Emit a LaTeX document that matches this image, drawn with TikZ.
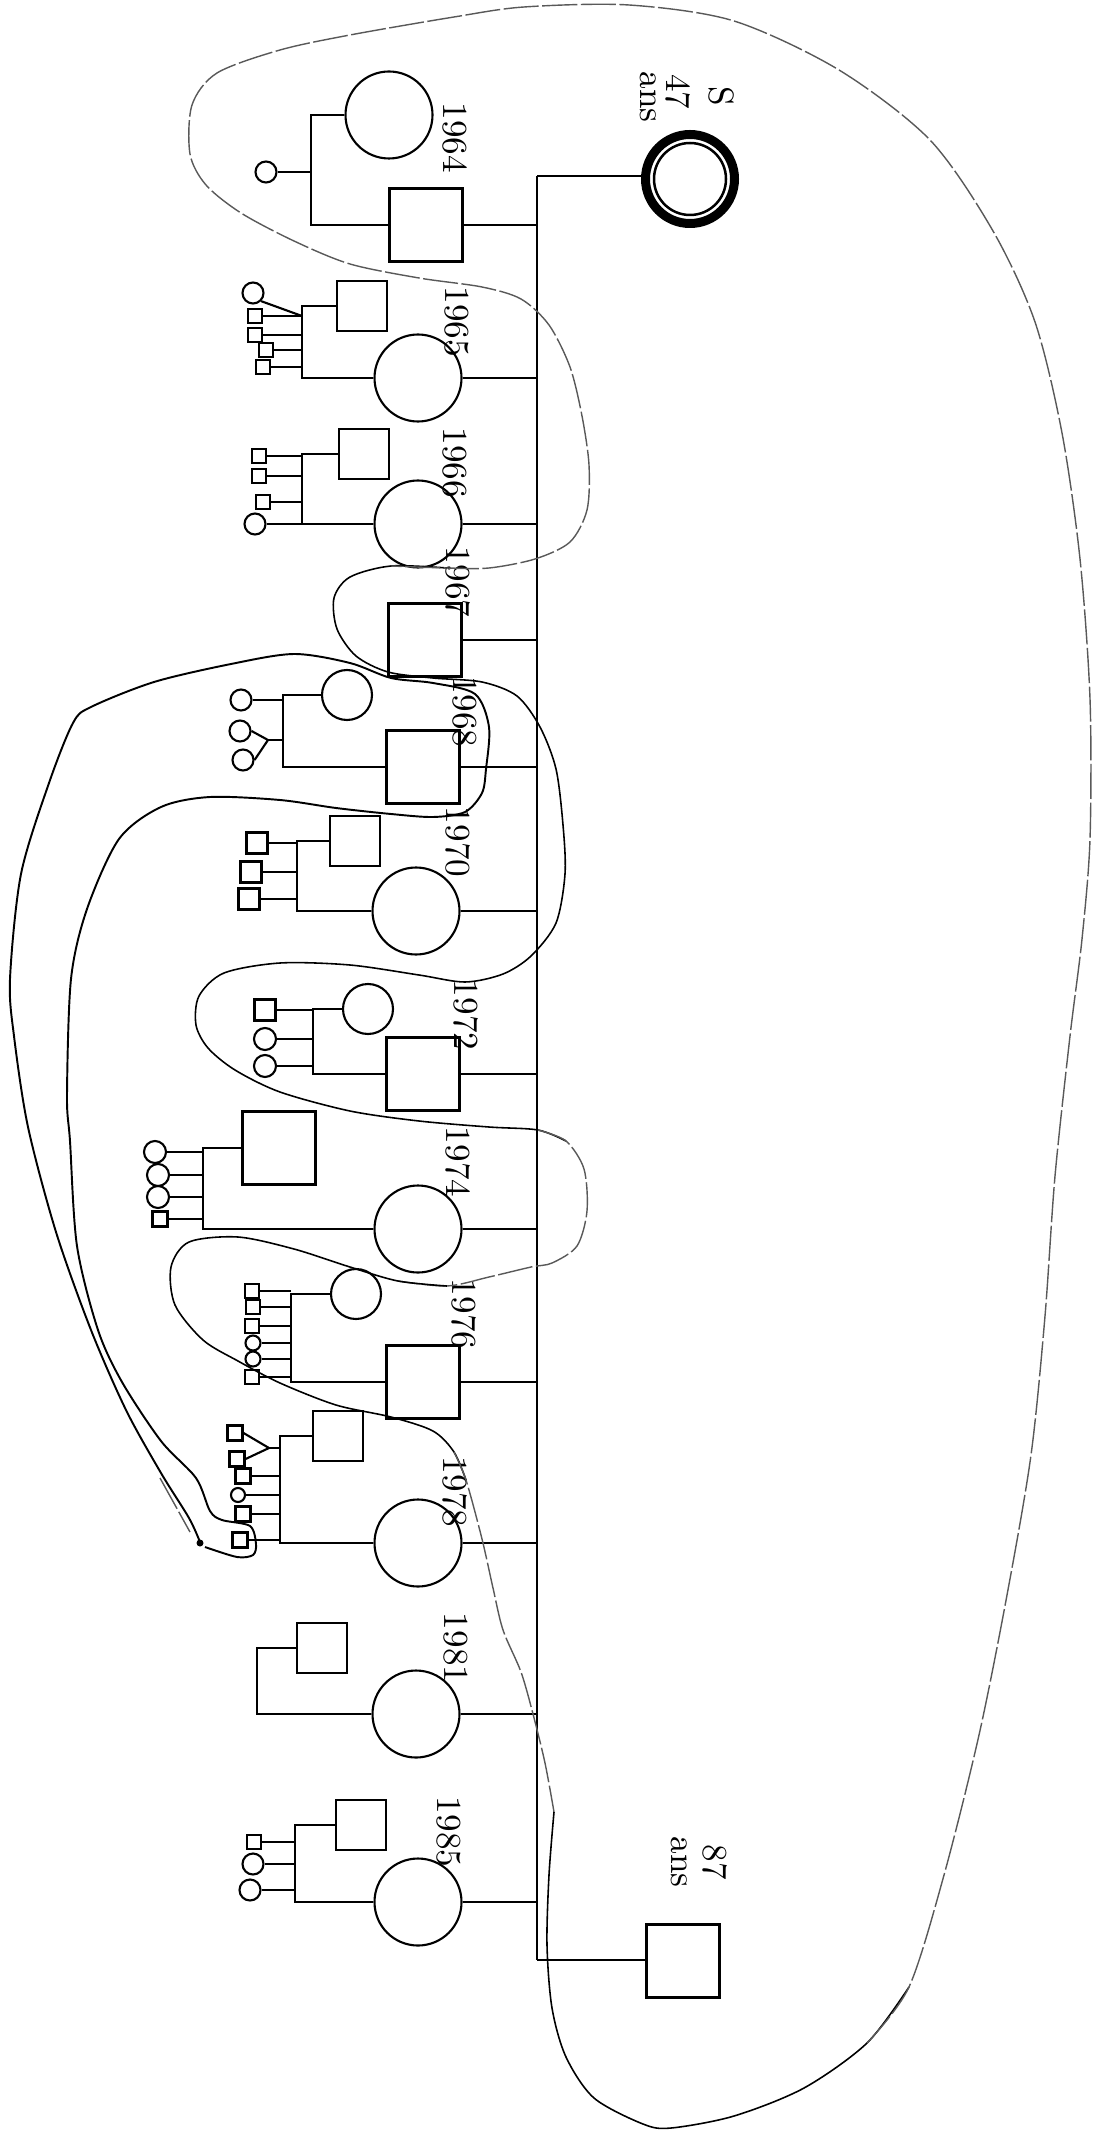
\documentclass[tikz,border=0pt]{standalone}
\usetikzlibrary{positioning}
\begin{document}
\begin{tikzpicture}[
  x=0.1mm, y=-0.1mm,
  line width=0.6pt,
  man/.style={draw, rectangle, minimum size=7.3mm, inner sep=0pt},
  woman/.style={draw, circle, minimum size=8.7mm, inner sep=0pt},
  mate/.style={draw, rectangle, minimum size=5mm, inner sep=0pt},
  matef/.style={draw, circle, minimum size=5mm, inner sep=0pt},
  kid/.style={draw, rectangle, minimum size=#1, inner sep=0pt}, kid/.default=1.4mm,
  kidf/.style={draw, circle, minimum size=#1, inner sep=0pt}, kidf/.default=2.1mm,
  year/.style={rotate=-90, inner sep=0pt, font=\fontsize{10}{12}\selectfont},
  hand/.style={line width=0.45pt},
  faint/.style={line width=0.4pt, black!65, dash pattern=on 10pt off 1pt}
]
\useasboundingbox (0,0) rectangle (1096,2132);

% Parents
\node[woman, line width=0.9mm, minimum size=8.9mm] (mother) at (690,179) {};
\draw[line width=0.25mm] (mother.center) circle[radius=3.6mm];
\node[year] (mS)   at (721,96) {S};
\node[year] (mAge) at (678,92) {47};
\node[year] (mAns) at (648,97) {ans};
\node[man] (father) at (683,1961) {};
\node[year] (fAge) at (715,1862) {87};
\node[year] (fAns) at (679,1862) {ans};

\coordinate (top) at (537,176);
\coordinate (bot) at (537,1960);
\draw (top) -- (bot);
\draw (top) -- (top -| mother.west);
\draw (bot) -- (bot -| father.west);

% 1964
\node[man]   (b64) at (426,225) {};
\node[woman] (s64) at (389,115) {};
\coordinate  (v64) at (311,0);
\node[kidf]  (k64a) at (266,172) {};
\node[year]  (y64) at (455,138) {1964};
\draw (b64.east) -- (b64.east -| top);
\draw (s64.west) -- (s64.west -| v64) -- (b64.west -| v64) -- (b64.west);
\draw (k64a.east) -- (k64a.east -| v64);

% 1965
\node[woman] (b65) at (418,378) {};
\node[mate]  (s65) at (362,306) {};
\coordinate  (v65) at (302,0);
\node[kidf]  (k65a) at (253,293) {};
\node[kid]   (k65b) at (255,316) {};
\node[kid]   (k65c) at (255,335) {};
\node[kid]   (k65d) at (266,350) {};
\node[kid]   (k65e) at (263,367) {};
\node[year]  (y65) at (457,322) {1965};
\draw (b65.east) -- (b65.east -| top);
\draw (s65.west) -- (s65.west -| v65) -- (b65.west -| v65) -- (b65.west);
\draw (k65a.south east) -- (k65b.east -| v65);
\foreach \k in {b,c,d,e} \draw (k65\k.east) -- (k65\k.east -| v65);

% 1966
\node[woman] (b66) at (418,524) {};
\node[mate]  (s66) at (364,454) {};
\coordinate  (v66) at (302,0);
\node[kid]   (k66a) at (259,456) {};
\node[kid]   (k66b) at (259,476) {};
\node[kid]   (k66c) at (263,502) {};
\node[kidf]  (k66d) at (255,524) {};
\node[year]  (y66) at (455,463) {1966};
\draw (b66.east) -- (b66.east -| top);
\draw (s66.west) -- (s66.west -| v66) -- (b66.west -| v66) -- (b66.west);
\foreach \k in {a,b,c,d} \draw (k66\k.east) -- (k66\k.east -| v66);

% 1967
\node[man]  (b67) at (425,640) {};
\node[year] (y67) at (458,582) {1967};
\draw (b67.east) -- (b67.east -| top);

% 1968
\node[man]   (b68) at (423,767) {};
\node[matef] (s68) at (347,695) {};
\coordinate  (v68) at (283,0);
\node[kidf]  (k68a) at (241,700) {};
\node[kidf]  (k68b) at (240,731) {};
\node[kidf]  (k68c) at (243,760) {};
\coordinate  (t68) at (268,740);
\node[year]  (y68) at (465,712) {1968};
\draw (b68.east) -- (b68.east -| top);
\draw (s68.west) -- (s68.west -| v68) -- (b68.west -| v68) -- (b68.west);
\draw (k68a.east) -- (k68a.east -| v68);
\draw (k68b.east) -- (t68) -- (k68c.east);
\draw (t68) -- (t68 -| v68);

% 1970
\node[woman] (b70) at (416,911) {};
\node[mate]  (s70) at (355,841) {};
\coordinate  (v70) at (297,0);
\node[kid=2.1mm] (k70a) at (257,843) {};
\node[kid=2.1mm] (k70b) at (251,872) {};
\node[kid=2.1mm] (k70c) at (249,899) {};
\node[year]  (y70) at (458,842) {1970};
\draw (b70.east) -- (b70.east -| top);
\draw (s70.west) -- (s70.west -| v70) -- (b70.west -| v70) -- (b70.west);
\foreach \k in {a,b,c} \draw (k70\k.east) -- (k70\k.east -| v70);

% 1972
\node[man]   (b72) at (423,1074) {};
\node[matef] (s72) at (368,1009) {};
\coordinate  (v72) at (313,0);
\node[kid=2.1mm]  (k72a) at (265,1010) {};
\node[kidf=2.2mm] (k72b) at (265,1039) {};
\node[kidf=2.2mm] (k72c) at (265,1066) {};
\node[year]  (y72) at (466,1015) {1972};
\draw (b72.east) -- (b72.east -| top);
\draw (s72.west) -- (s72.west -| v72) -- (b72.west -| v72) -- (b72.west);
\foreach \k in {a,b,c} \draw (k72\k.east) -- (k72\k.east -| v72);

% 1974
\node[woman] (b74) at (418,1229) {};
\node[man]   (s74) at (279,1148) {};
\coordinate  (v74) at (203,0);
\node[kidf=2.2mm] (k74a) at (155,1152) {};
\node[kidf=2.2mm] (k74b) at (158,1175) {};
\node[kidf=2.2mm] (k74c) at (158,1197) {};
\node[kid=1.5mm]  (k74d) at (160,1219) {};
\node[year]  (y74) at (458,1162) {1974};
\draw (b74.east) -- (b74.east -| top);
\draw (s74.west) -- (s74.west -| v74) -- (b74.west -| v74) -- (b74.west);
\foreach \k in {a,b,c,d} \draw (k74\k.east) -- (k74\k.east -| v74);

% 1976
\node[man]   (b76) at (423,1382) {};
\node[matef] (s76) at (356,1294) {};
\coordinate  (v76) at (291,0);
\node[kid]   (k76a) at (252,1291) {};
\node[kid]   (k76b) at (253,1307) {};
\node[kid]   (k76c) at (252,1326) {};
\node[kidf=1.5mm] (k76d) at (253,1343) {};
\node[kidf=1.5mm] (k76e) at (253,1359) {};
\node[kid]   (k76f) at (252,1377) {};
\node[year]  (y76) at (464,1314) {1976};
\draw (b76.east) -- (b76.east -| top);
\draw (s76.west) -- (s76.west -| v76) -- (b76.west -| v76) -- (b76.west);
\foreach \k in {a,b,c,d,e,f} \draw (k76\k.east) -- (k76\k.east -| v76);

% 1978
\node[woman] (b78) at (418,1543) {};
\node[mate]  (s78) at (338,1436) {};
\coordinate  (v78) at (280,0);
\node[kid=1.5mm]  (k78a) at (235,1433) {};
\node[kid=1.5mm]  (k78b) at (237,1459) {};
\coordinate  (t78) at (269,1448);
\node[kid=1.5mm]  (k78c) at (243,1476) {};
\node[kidf=1.4mm] (k78d) at (238,1495) {};
\node[kid=1.5mm]  (k78e) at (243,1514) {};
\node[kid=1.5mm]  (k78f) at (240,1540) {};
\node[year]  (y78) at (455,1492) {1978};
\draw (b78.east) -- (b78.east -| top);
\draw (s78.west) -- (s78.west -| v78) -- (b78.west -| v78) -- (b78.west);
\draw (k78a.east) -- (t78) -- (k78b.east);
\draw (t78) -- (t78 -| v78);
\foreach \k in {c,d,e,f} \draw (k78\k.east) -- (k78\k.east -| v78);

% 1981
\node[woman] (b81) at (416,1714) {};
\node[mate]  (s81) at (322,1648) {};
\coordinate  (v81) at (257,0);
\node[year]  (y81) at (456,1648) {1981};
\draw (b81.east) -- (b81.east -| top);
\draw (s81.west) -- (s81.west -| v81) -- (b81.west -| v81) -- (b81.west);

% 1985
\node[woman] (b85) at (418,1902) {};
\node[mate]  (s85) at (361,1825) {};
\coordinate  (v85) at (295,0);
\node[kid]   (k85a) at (254,1842) {};
\node[kidf]  (k85b) at (253,1864) {};
\node[kidf]  (k85c) at (250,1890) {};
\node[year]  (y85) at (449,1832) {1985};
\draw (b85.east) -- (b85.east -| top);
\draw (s85.west) -- (s85.west -| v85) -- (b85.west -| v85) -- (b85.west);
\foreach \k in {a,b,c} \draw (k85\k.east) -- (k85\k.east -| v85);

% Hand-drawn groupings
\draw[hand] plot[smooth] coordinates {(447,568) (391,566) (350,577) (334,598) (337,629) (356,656)
  (388,672) (433,678) (482,682) (517,696) (540,727) (556,769) (563,825) (565,874) (556,923)
  (531,956) (503,974) (465,982) (419,975) (350,965) (280,963) (224,973) (199,996) (196,1025)
  (208,1048) (235,1070) (280,1092) (350,1111) (419,1121) (489,1127) (538,1130) (566,1141)};
\draw[faint] plot[smooth] coordinates {(538,1130) (566,1141) (584,1169) (587,1211) (577,1246)
  (552,1263) (531,1267) (489,1277) (447,1286) (398,1281)};
\draw[hand] plot[smooth] coordinates {(447,1286) (398,1281) (350,1267) (294,1249) (238,1237)
  (189,1242) (171,1267) (175,1305) (203,1340) (238,1361) (280,1383) (336,1405) (391,1417)
  (433,1431) (454,1452) (466,1480)};
\draw[faint] plot[smooth] coordinates {(454,1452) (466,1480) (482,1539) (493,1588) (503,1630)
  (521,1672) (533,1714) (545,1763) (554,1812)};
\draw[hand] plot[smooth] coordinates {(554,1812) (549,1875) (547,1945) (552,2008) (566,2057)
  (594,2098) (643,2124) (671,2128) (734,2116) (804,2088) (867,2043) (909,1987)};
\draw[faint] plot[smooth] coordinates {(867,2043) (909,1987) (944,1875) (979,1735) (1007,1595)
  (1031,1455) (1045,1316) (1055,1176) (1070,1036) (1082,939) (1090,839) (1090,699) (1080,559)
  (1062,433) (1035,322) (993,231) (930,140) (839,70) (734,21) (629,5) (524,7) (454,17) (350,35)
  (280,50) (217,73) (192,105) (190,154) (206,185) (241,213) (294,241) (350,264) (419,278)
  (482,287) (521,299) (549,325) (570,367) (582,416) (589,465) (587,510) (570,542) (535,559)
  (489,568) (447,568) (391,566)};
\draw[hand, line width=0.55pt] plot[smooth] coordinates {(200,1542) (189,1518) (161,1473)
  (126,1410) (91,1330) (56,1232) (28,1127) (14,1036) (10,979) (21,874) (49,783) (73,723)
  (91,707) (154,682) (231,664) (294,654) (350,663) (391,678) (433,683) (475,694) (489,727)
  (486,769) (482,793) (465,812) (433,817) (391,814) (336,808) (280,800) (210,797) (161,807)
  (119,839) (87,909) (71,979) (67,1096) (70,1141) (77,1246) (98,1330) (122,1382) (161,1441)
  (196,1478) (210,1511) (222,1520) (250,1526) (256,1544) (253,1555) (237,1557) (205,1547)};
\fill (200,1543) circle[radius=0.35mm];
\draw[faint] (160,1478) -- (190,1532);
\end{tikzpicture}
\end{document}
